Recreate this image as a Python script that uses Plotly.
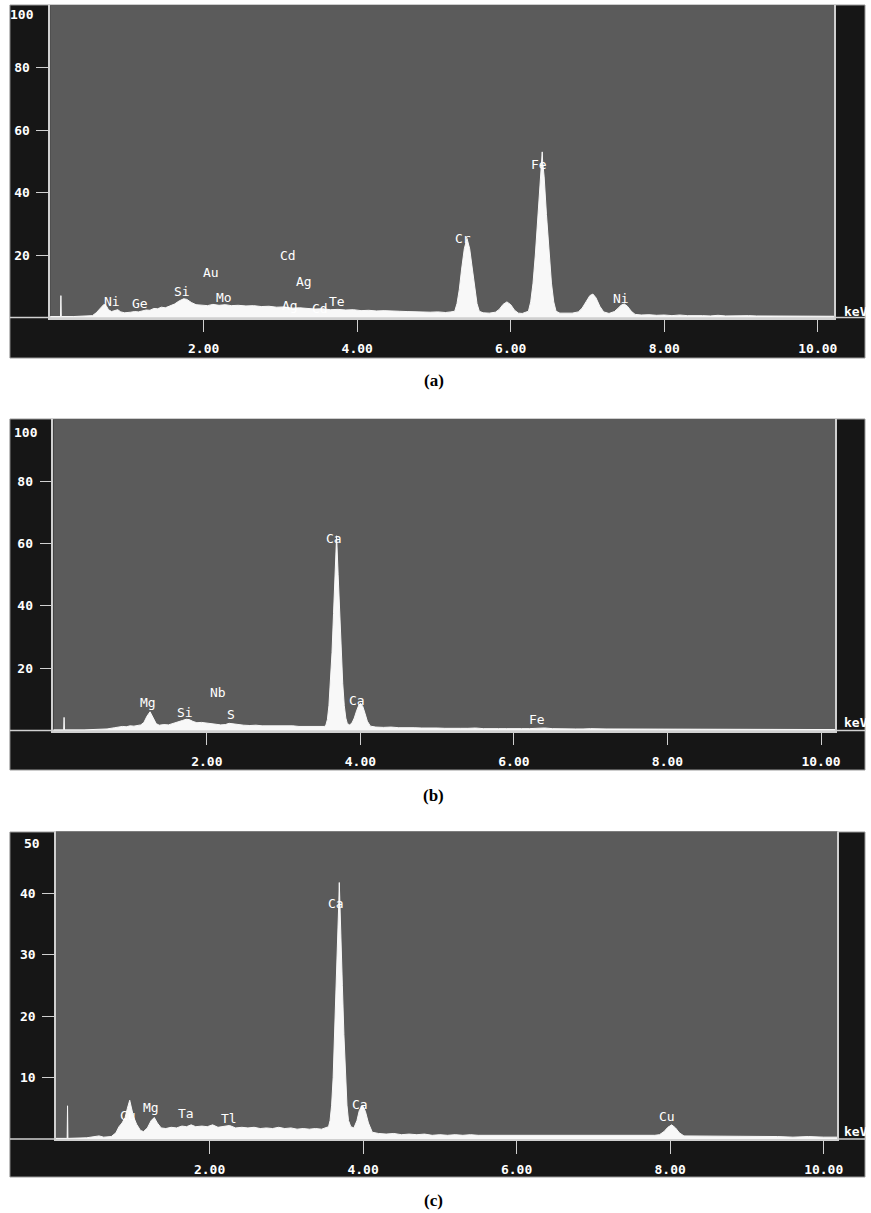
import plotly.graph_objects as go

W, H = 871, 1213

# ---------------- data: (keV, counts) ----------------
spectrum_a = [
    (0.00, 0.3), (0.10, 0.3), (0.135, 0.3), (0.14, 7.0), (0.145, 0.3), (0.30, 0.3), (0.45, 0.4),
    (0.55, 0.6), (0.60, 1.5), (0.65, 2.8), (0.70, 4.2), (0.73, 3.8), (0.76, 2.5), (0.80, 1.9),
    (0.85, 2.4), (0.88, 2.5), (0.92, 1.8), (0.97, 1.5), (1.05, 1.7), (1.10, 1.9), (1.15, 1.8),
    (1.20, 2.2), (1.25, 2.4), (1.30, 2.3), (1.35, 2.9), (1.40, 2.8), (1.45, 3.3), (1.50, 3.1),
    (1.55, 3.7), (1.62, 4.3), (1.68, 5.3), (1.74, 6.0), (1.78, 5.8), (1.84, 4.8), (1.90, 4.1),
    (1.98, 4.0), (2.05, 3.8), (2.12, 4.2), (2.20, 3.9), (2.28, 4.1), (2.36, 3.8), (2.45, 3.9),
    (2.55, 3.7), (2.65, 3.8), (2.75, 3.5), (2.85, 3.6), (2.95, 3.3), (3.05, 3.4), (3.15, 3.0),
    (3.25, 3.1), (3.35, 2.8), (3.45, 2.7), (3.55, 2.8), (3.65, 2.5), (3.75, 2.6), (3.85, 2.4),
    (3.95, 2.5), (4.05, 2.2), (4.15, 2.3), (4.25, 2.1), (4.35, 2.2), (4.45, 2.0), (4.55, 2.0),
    (4.65, 1.9), (4.75, 1.8), (4.85, 1.9), (4.95, 1.7), (5.05, 1.8), (5.15, 1.6), (5.22, 1.8),
    (5.27, 2.0), (5.30, 4.5), (5.33, 9.0), (5.36, 15.5), (5.395, 22.0), (5.43, 25.3), (5.465, 22.0),
    (5.50, 15.5), (5.53, 9.0), (5.56, 4.5), (5.59, 2.0), (5.64, 1.5), (5.72, 1.4), (5.80, 1.7),
    (5.85, 2.6), (5.90, 4.2), (5.95, 5.0), (6.00, 4.1), (6.05, 2.3), (6.10, 1.4), (6.15, 1.3),
    (6.19, 1.6), (6.23, 2.0), (6.26, 5.0), (6.29, 11.0), (6.32, 20.0), (6.355, 33.0), (6.385, 45.0),
    (6.405, 50.0), (6.41, 53.0), (6.415, 50.0), (6.435, 45.0), (6.465, 33.0), (6.50, 20.0),
    (6.53, 11.0), (6.56, 5.0), (6.59, 2.0), (6.64, 1.4), (6.72, 1.3), (6.80, 1.4), (6.88, 1.8),
    (6.93, 3.0), (6.98, 5.0), (7.03, 7.0), (7.07, 7.5), (7.11, 6.3), (7.16, 3.6), (7.21, 1.8),
    (7.28, 1.3), (7.35, 1.9), (7.40, 3.0), (7.44, 4.0), (7.48, 4.3), (7.52, 3.6), (7.57, 2.0),
    (7.62, 1.0), (7.70, 0.8), (7.80, 0.9), (7.90, 0.7), (8.00, 0.8), (8.10, 0.6), (8.20, 0.8),
    (8.30, 0.6), (8.40, 0.7), (8.50, 0.6), (8.60, 0.5), (8.70, 0.7), (8.80, 0.5), (8.90, 0.6),
    (9.00, 0.5), (9.10, 0.6), (9.20, 0.5), (9.30, 0.5), (9.40, 0.6), (9.50, 0.4), (9.60, 0.5),
    (9.70, 0.5), (9.80, 0.4), (9.90, 0.5), (10.00, 0.4), (10.10, 0.4), (10.21, 0.4),
]

spectrum_b = [
    (0.00, 0.2), (0.12, 0.2), (0.135, 0.2), (0.14, 4.2), (0.145, 0.2), (0.40, 0.2), (0.60, 0.3),
    (0.70, 0.5), (0.80, 0.9), (0.90, 1.3), (0.95, 1.2), (1.00, 1.5), (1.05, 1.4), (1.10, 1.7),
    (1.14, 1.8), (1.18, 2.6), (1.22, 4.6), (1.26, 6.0), (1.30, 4.2), (1.34, 2.2), (1.38, 1.7),
    (1.44, 1.9), (1.50, 1.8), (1.56, 2.2), (1.62, 2.6), (1.68, 3.2), (1.73, 3.6), (1.77, 3.5),
    (1.82, 2.9), (1.87, 2.5), (1.93, 2.6), (2.00, 2.3), (2.06, 2.2), (2.12, 2.0), (2.18, 1.8),
    (2.24, 1.9), (2.29, 2.3), (2.34, 2.1), (2.40, 1.8), (2.48, 1.7), (2.56, 1.6), (2.64, 1.7),
    (2.72, 1.5), (2.80, 1.5), (2.88, 1.6), (2.96, 1.4), (3.04, 1.4), (3.12, 1.5), (3.20, 1.3),
    (3.28, 1.3), (3.36, 1.4), (3.44, 1.2), (3.50, 1.3), (3.53, 1.3), (3.55, 1.7), (3.57, 3.5),
    (3.59, 8.0), (3.61, 15.0), (3.63, 25.0), (3.65, 37.5), (3.67, 50.0), (3.69, 62.5), (3.71, 50.0),
    (3.73, 37.5), (3.75, 25.0), (3.77, 15.0), (3.79, 8.0), (3.81, 4.0), (3.83, 2.2), (3.86, 1.8),
    (3.89, 2.4), (3.92, 4.0), (3.95, 6.3), (3.98, 8.2), (4.00, 8.7), (4.03, 7.8), (4.06, 5.5),
    (4.09, 3.0), (4.13, 1.4), (4.20, 1.1), (4.30, 1.0), (4.40, 1.1), (4.50, 0.9), (4.60, 1.0),
    (4.70, 0.9), (4.80, 0.8), (4.90, 0.9), (5.00, 0.8), (5.10, 0.7), (5.20, 0.8), (5.30, 0.7),
    (5.40, 0.7), (5.50, 0.8), (5.60, 0.6), (5.70, 0.7), (5.80, 0.6), (5.90, 0.6), (6.00, 0.7),
    (6.10, 0.6), (6.20, 0.6), (6.30, 0.7), (6.40, 0.8), (6.50, 0.6), (6.60, 0.5), (6.70, 0.6),
    (6.80, 0.5), (6.90, 0.5), (7.00, 0.6), (7.20, 0.5), (7.40, 0.5), (7.60, 0.4), (7.80, 0.5),
    (8.00, 0.4), (8.20, 0.4), (8.40, 0.5), (8.60, 0.4), (8.80, 0.3), (9.00, 0.4), (9.20, 0.3),
    (9.40, 0.4), (9.60, 0.3), (9.80, 0.3), (10.00, 0.3), (10.19, 0.3),
]

spectrum_c = [
    (0.00, 0.1), (0.13, 0.1), (0.145, 0.1), (0.15, 5.4), (0.155, 0.1), (0.40, 0.2), (0.50, 0.4),
    (0.56, 0.5), (0.62, 0.3), (0.72, 0.4), (0.78, 1.0), (0.82, 2.0), (0.86, 2.6), (0.90, 3.5),
    (0.93, 5.0), (0.96, 6.3), (0.98, 5.2), (1.01, 3.6), (1.05, 2.4), (1.10, 1.4), (1.14, 1.2),
    (1.19, 1.8), (1.24, 3.0), (1.28, 3.5), (1.32, 2.6), (1.37, 1.8), (1.43, 1.7), (1.50, 1.9),
    (1.57, 1.8), (1.64, 2.1), (1.70, 2.0), (1.76, 2.3), (1.82, 2.0), (1.90, 2.1), (1.97, 2.0),
    (2.04, 2.3), (2.11, 1.9), (2.18, 2.0), (2.26, 2.2), (2.34, 1.8), (2.42, 1.9), (2.50, 1.8),
    (2.58, 1.9), (2.66, 1.7), (2.74, 1.8), (2.82, 1.7), (2.90, 1.9), (2.98, 1.7), (3.06, 1.8),
    (3.14, 1.6), (3.22, 1.7), (3.30, 1.6), (3.38, 1.7), (3.46, 1.6), (3.52, 1.8), (3.55, 2.0),
    (3.57, 3.0), (3.59, 5.5), (3.61, 10.0), (3.63, 17.0), (3.65, 25.0), (3.67, 33.0), (3.685, 39.0),
    (3.69, 41.7), (3.695, 39.0), (3.71, 33.0), (3.73, 25.0), (3.75, 17.0), (3.77, 10.0), (3.79, 5.5),
    (3.81, 3.0), (3.84, 2.0), (3.88, 1.8), (3.92, 3.0), (3.95, 4.6), (3.99, 5.5), (4.03, 4.5),
    (4.07, 2.6), (4.12, 1.1), (4.20, 0.9), (4.30, 0.8), (4.40, 0.9), (4.50, 0.7), (4.60, 0.8),
    (4.70, 0.7), (4.80, 0.8), (4.90, 0.6), (5.00, 0.7), (5.10, 0.6), (5.20, 0.7), (5.30, 0.6),
    (5.40, 0.7), (5.50, 0.6), (5.60, 0.6), (5.70, 0.5), (5.80, 0.6), (5.90, 0.5), (6.00, 0.6),
    (6.10, 0.5), (6.20, 0.6), (6.30, 0.5), (6.40, 0.5), (6.50, 0.6), (6.60, 0.5), (6.70, 0.5),
    (6.80, 0.6), (6.90, 0.5), (7.00, 0.5), (7.10, 0.6), (7.20, 0.5), (7.30, 0.5), (7.40, 0.6),
    (7.50, 0.5), (7.60, 0.5), (7.70, 0.5), (7.80, 0.6), (7.86, 0.7), (7.92, 1.2), (7.97, 1.9),
    (8.02, 2.3), (8.07, 1.8), (8.12, 1.0), (8.18, 0.5), (8.30, 0.5), (8.40, 0.4), (8.50, 0.5),
    (8.60, 0.4), (8.70, 0.5), (8.80, 0.4), (8.90, 0.5), (9.00, 0.4), (9.20, 0.4), (9.40, 0.4),
    (9.60, 0.3), (9.80, 0.4), (10.00, 0.3), (10.18, 0.3),
]

# element labels: (text, keV, counts)
labels_a = [("Ni", 0.81, 5.1), ("Ge", 1.17, 4.5), ("Si", 1.72, 8.3), ("Au", 2.10, 14.5),
            ("Mo", 2.26, 6.5), ("Cd", 3.10, 19.8), ("Ag", 3.31, 11.5), ("Ag", 3.12, 3.7),
            ("Cd", 3.51, 2.9), ("Te", 3.74, 5.1), ("Cr", 5.38, 25.3), ("Fe", 6.37, 49.1),
            ("Ni", 7.43, 6.1)]
labels_b = [("Mg", 1.23, 9.0), ("Si", 1.71, 5.7), ("Nb", 2.14, 12.1), ("S", 2.32, 5.0),
            ("Ca", 3.65, 61.7), ("Ca", 3.96, 9.5), ("Fe", 6.30, 3.4)]
labels_c = [("Cu", 0.94, 3.9), ("Mg", 1.24, 5.2), ("Ta", 1.69, 4.1), ("Tl", 2.25, 3.4),
            ("Ca", 3.65, 38.3), ("Ca", 3.96, 5.6), ("Cu", 7.96, 3.6)]

x_ticks = [2, 4, 6, 8, 10]
x_ticktext = ["2.00", "4.00", "6.00", "8.00", "10.00"]
y_ticks_ab = [20, 40, 60, 80]
y_ticks_c = [10, 20, 30, 40]
captions = ["(a)", "(b)", "(c)"]

# ---------------- layout geometry (pixels) ----------------
panels = [
    dict(data=spectrum_a, labels=labels_a, yticks=y_ticks_ab, ymax=100, top_label="100",
         frame=(10, 5, 871, 358), plot=(50.5, 5, 840, 317.5), px_per_kev=77.3,
         toplab=(22, 15), cap_y=380, kev_y=311),
    dict(data=spectrum_b, labels=labels_b, yticks=y_ticks_ab, ymax=100, top_label="100",
         frame=(10, 419, 871, 770), plot=(53.7, 419, 841, 730.5), px_per_kev=77.3,
         toplab=(26, 433), cap_y=795, kev_y=722),
    dict(data=spectrum_c, labels=labels_c, yticks=y_ticks_c, ymax=50, top_label="50",
         frame=(10, 832, 871, 1177), plot=(56.4, 831.5, 843, 1139), px_per_kev=77.3,
         toplab=(32, 843), cap_y=1200, kev_y=1131),
]

BLACK = "#161616"
GRAY = "#5b5b5b"
LINE = "#d0d0d0"
MONO = "DejaVu Sans Mono"

fig = go.Figure()
shapes = []
annotations = []

def xp(px):
    return px / W

def yp(py):
    return 1 - py / H

for i, p in enumerate(panels, start=1):
    xa = "x" if i == 1 else f"x{i}"
    ya = "y" if i == 1 else f"y{i}"
    E = [d[0] for d in p["data"]]
    C = [d[1] for d in p["data"]]
    fig.add_trace(go.Scatter(x=E, y=C, mode="lines", xaxis=xa, yaxis=ya,
                             line=dict(color="#f8f8f8", width=1),
                             fill="tozeroy", fillcolor="#f8f8f8",
                             hoverinfo="skip", showlegend=False))
    fx0, fy0, fx1, fy1 = p["frame"]
    px0, py0, px1, py1 = p["plot"]
    xmax = (px1 - px0) / p["px_per_kev"]

    axis_font = dict(family=MONO, size=13, color="white", weight="bold")
    fig.update_layout(**{
        ("xaxis" if i == 1 else f"xaxis{i}"): dict(
            domain=[xp(px0), xp(px1)], range=[0, xmax], anchor=ya,
            tickvals=x_ticks, ticktext=x_ticktext, ticks="outside", ticklen=13,
            tickcolor=LINE, tickwidth=1, tickfont=axis_font, showgrid=False,
            zeroline=False, showline=True, linecolor=LINE, linewidth=1.5,
            fixedrange=True, ticklabelstandoff=5),
        ("yaxis" if i == 1 else f"yaxis{i}"): dict(
            domain=[yp(py1), yp(py0)], range=[0, p["ymax"]], anchor=xa,
            tickvals=p["yticks"], ticktext=[str(v) for v in p["yticks"]],
            ticks="outside", ticklen=12, tickcolor=LINE, tickwidth=1,
            tickfont=axis_font, showgrid=False, zeroline=False, showline=True,
            mirror=True, linecolor=LINE, linewidth=1.5, fixedrange=True,
            ticklabelstandoff=4),
    })

    # black instrument frame and gray display area
    shapes.append(dict(type="rect", xref="paper", yref="paper", layer="below",
                       x0=xp(fx0), x1=xp(fx1), y0=yp(fy1), y1=yp(fy0),
                       fillcolor=BLACK, line=dict(color="#9a9a9a", width=1)))
    shapes.append(dict(type="rect", xref=f"{xa} domain", yref=f"{ya} domain", layer="below",
                       x0=0, x1=1, y0=0, y1=1, fillcolor=GRAY, line=dict(width=0)))
    # baseline rule across the whole frame
    shapes.append(dict(type="line", xref="paper", yref="paper", layer="below",
                       x0=xp(fx0), x1=xp(fx1), y0=yp(py1), y1=yp(py1),
                       line=dict(color=LINE, width=1.5)))

    for txt, ev, cv in p["labels"]:
        annotations.append(dict(text=txt, x=ev, y=cv, xref=xa, yref=ya, showarrow=False,
                                xanchor="center", yanchor="middle",
                                font=dict(family=MONO, size=13, color="white")))
    tx, ty = p["toplab"]
    annotations.append(dict(text=p["top_label"], x=xp(tx), y=yp(ty), xref="paper", yref="paper",
                            showarrow=False, xanchor="center", yanchor="middle",
                            font=axis_font))
    annotations.append(dict(text="keV", x=xp(848), y=yp(p["kev_y"]), xref="paper", yref="paper",
                            showarrow=False, xanchor="left", yanchor="middle",
                            font=axis_font))
    annotations.append(dict(text=f"<b>{captions[i-1]}</b>", x=xp(437), y=yp(p["cap_y"]),
                            xref="paper", yref="paper", showarrow=False,
                            xanchor="center", yanchor="middle",
                            font=dict(family="Liberation Serif", size=17, color="black")))

fig.update_layout(width=W, height=H, margin=dict(l=0, r=0, t=0, b=0),
                  paper_bgcolor="white", plot_bgcolor=GRAY, showlegend=False,
                  shapes=shapes, annotations=annotations)

fig.write_html("out.html", config={"displayModeBar": False},
               post_script="document.body.style.margin='0px';document.body.style.overflow='hidden';")
